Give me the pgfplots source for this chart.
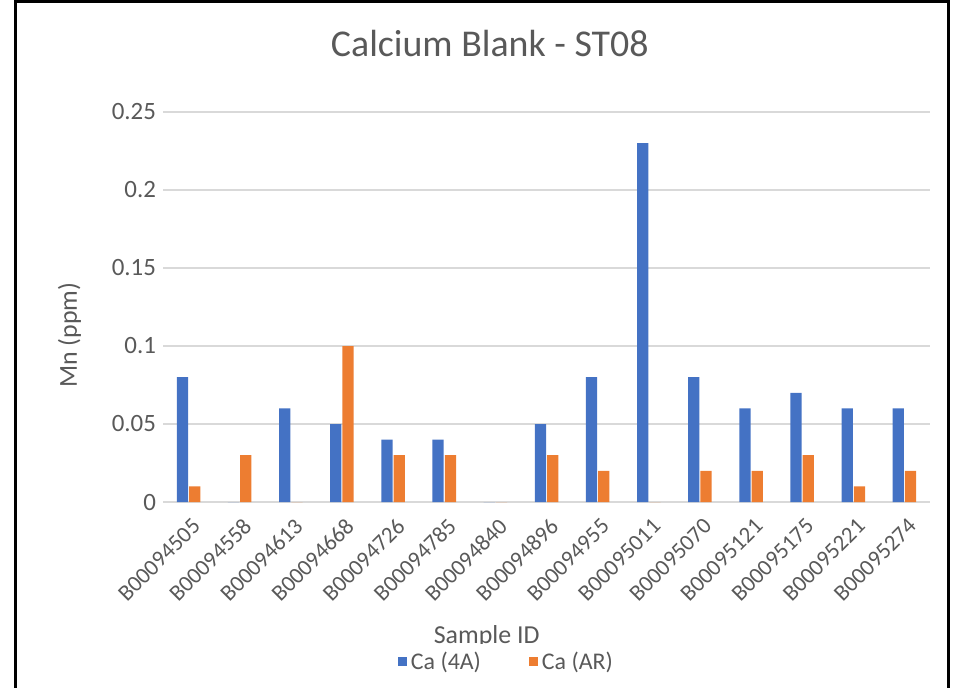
\documentclass[border=0pt]{standalone}
\usepackage{pgfplots}
\pgfplotsset{compat=1.18}
\usepackage{fontspec}
\setmainfont{Carlito}
\definecolor{cblue}{HTML}{4472C4}
\definecolor{corange}{HTML}{ED7D31}
\definecolor{tgrey}{HTML}{595959}
\definecolor{ggrey}{HTML}{D9D9D9}
\begin{document}
\begin{tikzpicture}[x=1bp,y=1bp]
\path[use as bounding box] (0,0) rectangle (481.5,343.5);
\draw[line width=1.5bp] (7.5,-5) -- (7.5,342.5) -- (474,342.5) -- (474,-5);
\begin{axis}[
  at={(81.5bp,92.5bp)}, anchor=south west,
  scale only axis, width=383.5bp, height=195bp,
  xmin=-0.5, xmax=14.5, ymin=0, ymax=0.25,
  ybar, bar width=0.22,
  axis line style={draw=none},
  major tick length=0pt,
  ymajorgrids, grid style={ggrey, line width=0.8bp},
  ytick={0,0.05,0.1,0.15,0.2,0.25},
  yticklabels={0,0.05,0.1,0.15,0.2,0.25},
  yticklabel style={font=\fontsize{12.5}{14}\selectfont, text=tgrey},
  xtick={0,...,14},
  xticklabels={B00094505,B00094558,B00094613,B00094668,B00094726,B00094785,B00094840,B00094896,B00094955,B00095011,B00095070,B00095121,B00095175,B00095221,B00095274},
  xticklabel style={font=\fontsize{11.5}{13}\selectfont, text=tgrey, rotate=45, anchor=east, yshift=-10bp, xshift=-1bp},
  title={Calcium Blank - ST08},
  title style={font=\fontsize{19}{23}\selectfont, text=tgrey, at={(axis description cs:0.426,1)}, anchor=center, yshift=28.5bp},
  xlabel={Sample ID},
  xlabel style={font=\fontsize{13}{15}\selectfont, text=tgrey, at={(axis description cs:0.422,-0.346)}, anchor=center},
  ylabel={Mn (ppm)},
  ylabel style={font=\fontsize{13}{15}\selectfont, text=tgrey, at={(axis description cs:-0.122,0.428)}, anchor=center},
  legend columns=2,
  legend style={draw=none, font=\fontsize{12}{14}\selectfont, text=tgrey, at={(axis description cs:0.449,-0.41)}, anchor=center, /tikz/every even column/.append style={column sep=22bp}},
  legend image code/.code={\fill[#1] (0bp,-2bp) rectangle (4.5bp,2.5bp);},
]
\addplot[fill=cblue, draw=none, bar shift=-0.12] coordinates {
(0,0.08) (1,0) (2,0.06) (3,0.05) (4,0.04) (5,0.04) (6,0) (7,0.05) (8,0.08) (9,0.23) (10,0.08) (11,0.06) (12,0.07) (13,0.06) (14,0.06)};
\addplot[fill=corange, draw=none, bar shift=0.12] coordinates {
(0,0.01) (1,0.03) (2,0) (3,0.1) (4,0.03) (5,0.03) (6,0) (7,0.03) (8,0.02) (9,0) (10,0.02) (11,0.02) (12,0.03) (13,0.01) (14,0.02)};
\legend{Ca (4A), Ca (AR)}
\end{axis}
\end{tikzpicture}
\end{document}
